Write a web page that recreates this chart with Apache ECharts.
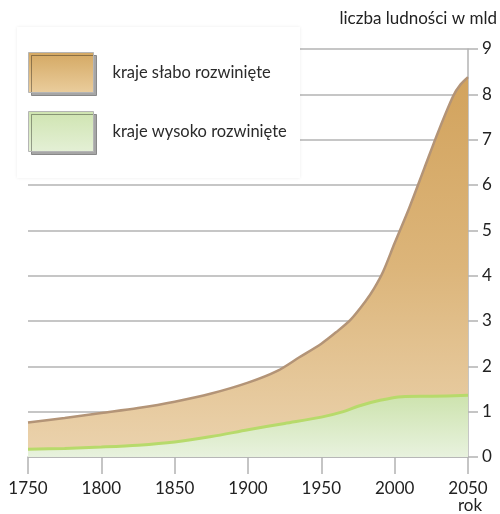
<!DOCTYPE html>
<html>
<head>
<meta charset="utf-8">
<script src="https://cdn.jsdelivr.net/npm/echarts@6/dist/echarts.min.js"></script>
<style>
  html, body { margin: 0; padding: 0; background: #fff; }
  #chart { width: 500px; height: 514px; }
</style>
</head>
<body>
<div id="chart"></div>
<script>
// population, billions
var totalYears = [1750, 1775, 1800, 1825, 1850, 1875, 1900, 1920, 1935, 1950, 1960, 1970, 1980, 1986, 1992, 2000, 2010, 2020, 2030, 2040, 2045, 2050];
var totalValues = [0.76, 0.86, 0.97, 1.08, 1.22, 1.40, 1.64, 1.90, 2.20, 2.50, 2.75, 3.03, 3.43, 3.72, 4.08, 4.72, 5.50, 6.35, 7.20, 7.97, 8.22, 8.38];

var developedYears = [1750, 1775, 1800, 1825, 1850, 1875, 1900, 1925, 1950, 1965, 1975, 1990, 2005, 2025, 2050];
var developedValues = [0.17, 0.19, 0.22, 0.26, 0.33, 0.45, 0.60, 0.74, 0.88, 1.00, 1.12, 1.25, 1.33, 1.34, 1.36];

var seriesNames = ['kraje słabo rozwinięte', 'kraje wysoko rozwinięte'];
var yearTicks = [1750, 1800, 1850, 1900, 1950, 2000, 2050];

var FONT = 'Lato, "Open Sans", sans-serif';
var GRID_GRAY = '#b3b3b3';

function pairs(xs, ys) {
    return xs.map(function (x, i) { return [x, ys[i]]; });
}

var orangeFill = new echarts.graphic.LinearGradient(0, 0, 0, 1, [
    { offset: 0, color: '#d2a35d' },
    { offset: 0.5, color: '#dcb57a' },
    { offset: 1, color: '#ebd3ae' }
]);
var greenFill = new echarts.graphic.LinearGradient(0, 0, 0, 1, [
    { offset: 0, color: '#cde3ae' },
    { offset: 1, color: '#e8f2de' }
]);
var orangeSwatch = new echarts.graphic.LinearGradient(0, 0, 0, 1, [
    { offset: 0, color: '#d4a862' },
    { offset: 1, color: '#eacd9d' }
]);
var greenSwatch = new echarts.graphic.LinearGradient(0, 0, 0, 1, [
    { offset: 0, color: '#cfe4b0' },
    { offset: 1, color: '#e4f0d6' }
]);

var chart = echarts.init(document.getElementById('chart'));

var option = {
    backgroundColor: '#fff',
    animation: false,
    grid: { left: 28, right: 32, top: 49, bottom: 57 },
    legend: {
        orient: 'vertical',
        left: 28,
        top: 52,
        padding: 0,
        itemWidth: 65,
        itemHeight: 40,
        itemGap: 18,
        icon: 'rect',
        z: 10,
        textStyle: { fontFamily: FONT, fontSize: 16.5, color: '#2a2a2a', padding: [0, 0, 0, 14] },
        data: [
            {
                name: seriesNames[0],
                itemStyle: {
                    color: orangeSwatch, borderColor: '#b5b5b5', borderWidth: 1,
                    shadowColor: 'rgba(0,0,0,0.35)', shadowOffsetX: 3, shadowOffsetY: 3, shadowBlur: 0
                }
            },
            {
                name: seriesNames[1],
                itemStyle: {
                    color: greenSwatch, borderColor: '#b5b5b5', borderWidth: 1,
                    shadowColor: 'rgba(0,0,0,0.35)', shadowOffsetX: 3, shadowOffsetY: 3, shadowBlur: 0
                }
            }
        ]
    },
    xAxis: {
        type: 'value',
        min: 1750,
        max: 2050,
        interval: 50,
        axisLine: { show: true, lineStyle: { color: GRID_GRAY, width: 1.5 } },
        axisTick: { show: true, length: 17, lineStyle: { color: GRID_GRAY, width: 1.5 } },
        splitLine: { show: false },
        axisLabel: {
            margin: 23,
            fontFamily: FONT,
            fontSize: 17,
            color: '#222',
            formatter: function (v) { return yearTicks.indexOf(v) >= 0 ? String(v) : ''; }
        }
    },
    yAxis: {
        type: 'value',
        position: 'right',
        min: 0,
        max: 9,
        interval: 1,
        axisLine: { show: true, lineStyle: { color: GRID_GRAY, width: 1.5 } },
        axisTick: { show: true, length: 10, lineStyle: { color: GRID_GRAY, width: 1.5 } },
        splitLine: { show: true, lineStyle: { color: GRID_GRAY, width: 1.5 } },
        axisLabel: { margin: 14, fontFamily: FONT, fontSize: 17, color: '#222' }
    },
    graphic: [
        {
            type: 'rect',
            z: 5,
            shape: { x: 17, y: 27, width: 283, height: 151 },
            style: { fill: '#fff', shadowBlur: 3, shadowColor: 'rgba(0,0,0,0.08)' }
        },
        {
            type: 'text',
            right: 3,
            top: 10,
            style: { text: 'liczba ludności w mld', font: '17px ' + FONT, fill: '#222' }
        },
        {
            type: 'text',
            x: 470,
            y: 497,
            style: { text: 'rok', font: '17px ' + FONT, fill: '#222', align: 'center' }
        }
    ],
    series: [
        {
            name: seriesNames[0],
            type: 'line',
            data: pairs(totalYears, totalValues),
            smooth: 0.3,
            symbol: 'none',
            z: 2,
            lineStyle: { color: '#b39477', width: 2.5 },
            areaStyle: { color: orangeFill, opacity: 1 }
        },
        {
            name: seriesNames[1],
            type: 'line',
            data: pairs(developedYears, developedValues),
            smooth: 0.3,
            symbol: 'none',
            z: 3,
            lineStyle: { color: '#b7da6b', width: 3 },
            areaStyle: { color: greenFill, opacity: 1 }
        }
    ]
};

chart.setOption(option);
window.addEventListener('resize', function () {
    chart.resize();
});
</script>
</body>
</html>
